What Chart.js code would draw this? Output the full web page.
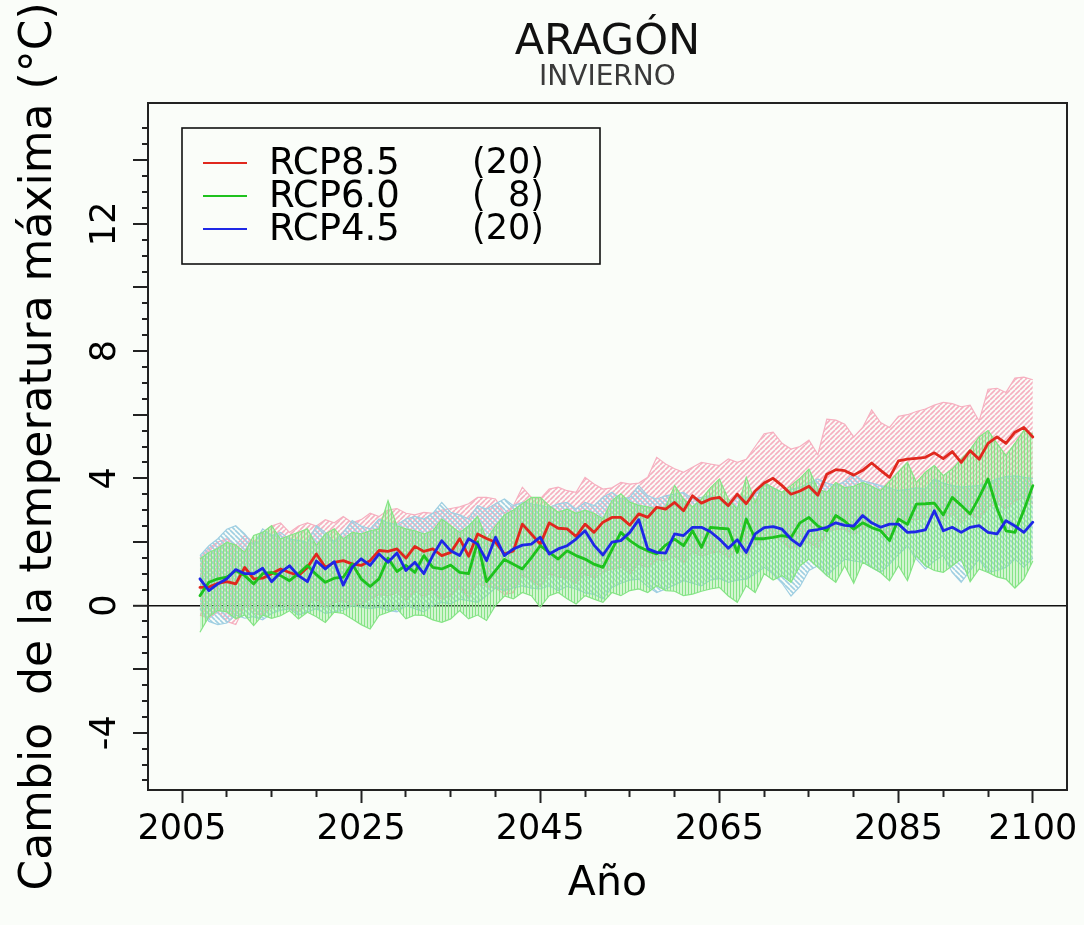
<!DOCTYPE html>
<html>
<head>
<meta charset="utf-8">
<script src="https://cdn.jsdelivr.net/npm/chart.js@4.4.1/dist/chart.umd.min.js"></script>
<style>
  html, body { margin: 0; padding: 0; background: #fafdf9; }
  canvas { display: block; }
</style>
</head>
<body>
<canvas id="c" width="1084" height="925"></canvas>
<script>
// ---------------- DATA ----------------
const years = [2007,2008,2009,2010,2011,2012,2013,2014,2015,2016,
  2017,2018,2019,2020,2021,2022,2023,2024,2025,2026,
  2027,2028,2029,2030,2031,2032,2033,2034,2035,2036,
  2037,2038,2039,2040,2041,2042,2043,2044,2045,2046,
  2047,2048,2049,2050,2051,2052,2053,2054,2055,2056,
  2057,2058,2059,2060,2061,2062,2063,2064,2065,2066,
  2067,2068,2069,2070,2071,2072,2073,2074,2075,2076,
  2077,2078,2079,2080,2081,2082,2083,2084,2085,2086,
  2087,2088,2089,2090,2091,2092,2093,2094,2095,2096,
  2097,2098,2099,2100];

const rcp85Mean = [0.57,0.58,0.70,0.75,0.68,1.20,0.84,0.86,1.00,1.15,
  1.04,0.94,1.20,1.62,1.20,1.36,1.41,1.31,1.26,1.41,
  1.73,1.70,1.78,1.49,1.86,1.70,1.78,1.57,1.67,2.10,
  1.55,2.25,2.11,1.99,1.62,1.72,2.56,2.25,1.93,2.60,
  2.43,2.41,2.17,2.56,2.30,2.62,2.77,2.77,2.53,2.88,
  2.77,3.09,3.03,3.24,2.98,3.45,3.22,3.35,3.40,3.14,
  3.50,3.20,3.60,3.85,4.00,3.77,3.50,3.60,3.75,3.47,
  4.13,4.27,4.24,4.10,4.25,4.48,4.25,4.03,4.55,4.60,
  4.63,4.66,4.80,4.62,4.84,4.50,4.87,4.60,5.10,5.30,
  5.10,5.45,5.60,5.30];
const rcp85Upper = [1.5,1.8,2.0,2.1,1.9,2.2,2.0,2.3,2.5,2.6,
  2.3,2.5,2.6,2.5,2.7,2.6,2.8,2.6,2.7,2.9,
  2.8,3.0,3.05,2.9,2.85,2.93,2.9,3.0,3.05,3.1,
  3.2,3.4,3.4,3.35,2.9,3.14,3.72,3.4,3.35,3.66,
  3.72,3.61,3.56,4.03,3.82,3.66,3.7,3.87,3.82,3.85,
  4.03,4.66,4.45,4.3,4.19,4.35,4.5,4.45,4.4,4.61,
  4.5,4.6,5.0,5.4,5.45,5.1,4.92,5.0,5.2,4.75,
  5.86,5.83,5.7,5.3,5.6,6.15,5.75,5.6,5.95,6.0,
  6.1,6.18,6.3,6.39,6.35,6.25,6.3,5.8,6.8,6.83,
  6.7,7.15,7.18,7.1];
const rcp85Lower = [-0.3,-0.4,-0.2,-0.5,-0.6,0.0,-0.25,-0.3,-0.05,0.1,
  -0.1,-0.2,0.05,0.2,-0.05,0.1,0.15,0.0,0.05,0.2,
  0.35,0.3,0.4,0.15,0.45,0.3,0.4,0.2,0.3,0.6,
  0.25,0.7,0.6,0.55,0.35,0.4,0.95,0.8,0.6,1.0,
  0.9,0.85,0.7,1.0,0.85,1.05,1.15,1.2,1.0,1.3,
  1.2,1.45,1.4,1.55,1.35,1.7,1.55,1.65,1.7,1.5,
  1.8,1.55,1.9,2.1,2.2,2.0,1.8,1.9,2.0,1.8,
  2.3,2.4,2.4,2.25,2.4,2.6,2.4,2.2,2.65,2.7,
  2.7,2.75,2.85,2.7,2.9,2.6,2.9,2.7,3.1,3.2,
  3.05,3.3,3.4,3.2];

const rcp60Mean = [0.31,0.73,0.84,0.89,1.10,0.94,0.68,1.00,1.04,0.94,
  0.78,1.00,1.26,0.97,0.73,0.86,0.89,1.31,0.84,0.60,
  0.84,1.49,1.07,1.26,1.04,1.57,1.20,1.15,1.27,1.04,
  1.00,2.00,0.75,1.10,1.45,1.30,1.15,1.50,1.88,1.67,
  1.46,1.72,1.57,1.46,1.30,1.20,1.75,2.30,2.04,1.85,
  1.72,1.62,1.90,2.09,1.88,2.35,1.83,2.46,2.43,2.41,
  1.67,2.72,2.10,2.10,2.14,2.20,2.14,2.60,2.77,2.50,
  2.35,2.83,2.65,2.40,2.60,2.45,2.35,2.04,2.72,2.55,
  3.19,3.20,3.22,2.85,3.40,3.15,2.88,3.40,3.98,3.05,
  2.35,2.30,3.00,3.77];
const rcp60Upper = [1.46,1.67,1.8,1.99,1.9,1.67,2.2,2.3,2.51,2.09,
  2.2,2.3,2.41,1.88,2.25,2.41,2.09,2.3,2.25,2.35,
  2.41,3.3,2.51,2.41,2.35,2.25,2.35,2.72,2.51,2.3,
  2.5,2.8,2.09,2.5,2.85,3.0,3.2,3.4,3.4,3.14,
  2.93,3.03,2.9,3.0,2.9,2.72,3.3,3.51,3.25,3.15,
  3.1,3.03,3.1,3.77,3.35,3.1,3.35,3.7,3.98,3.35,
  3.03,4.03,3.24,3.87,3.7,3.56,3.77,4.0,4.29,3.66,
  3.56,3.87,3.7,3.75,3.87,3.75,3.61,3.9,4.2,4.5,
  3.87,4.19,4.4,4.08,4.29,4.6,4.9,5.3,5.5,5.1,
  4.71,5.1,5.5,5.39];
const rcp60Lower = [-0.84,-0.35,-0.15,-0.2,-0.42,-0.3,-0.63,-0.3,-0.4,-0.32,
  -0.16,-0.42,-0.21,-0.35,-0.53,-0.21,-0.25,-0.42,-0.6,-0.74,
  -0.31,-0.21,-0.1,-0.42,-0.3,-0.31,-0.45,-0.53,-0.42,-0.16,
  -0.42,-0.3,-0.47,0.0,0.3,0.21,0.41,0.31,-0.05,0.31,
  0.41,0.21,0.05,0.31,0.2,0.1,0.41,0.31,0.47,0.52,
  0.41,0.62,0.47,0.45,0.31,0.36,0.45,0.52,0.57,0.3,
  0.1,0.62,0.41,1.0,0.8,0.94,0.73,1.25,1.46,1.2,
  0.94,0.73,1.25,0.7,1.36,1.2,1.04,0.78,1.25,0.78,
  1.57,1.25,1.1,1.04,1.25,1.46,0.75,1.15,1.04,0.9,
  0.83,0.55,0.83,1.4];

const rcp45Mean = [0.84,0.47,0.68,0.84,1.13,1.00,1.00,1.17,0.75,1.04,
  1.25,0.94,0.75,1.40,1.15,1.38,0.64,1.20,1.47,1.26,
  1.62,1.36,1.65,1.10,1.36,1.00,1.57,2.04,1.72,1.57,
  2.10,1.93,1.41,2.15,1.57,1.78,1.90,1.93,2.15,1.62,
  1.78,1.88,2.09,2.35,1.90,1.59,1.99,2.04,2.30,2.70,
  1.78,1.67,1.65,2.25,2.20,2.46,2.46,2.32,2.09,1.80,
  2.07,1.67,2.25,2.45,2.48,2.40,2.09,1.88,2.35,2.39,
  2.46,2.60,2.52,2.50,2.83,2.60,2.46,2.56,2.56,2.30,
  2.32,2.38,2.98,2.35,2.46,2.30,2.46,2.51,2.30,2.25,
  2.67,2.50,2.30,2.62];
const rcp45Upper = [1.57,1.88,2.1,2.4,2.51,2.25,1.9,2.41,2.2,2.3,
  2.09,2.05,1.99,2.51,2.3,1.99,2.3,2.67,2.5,2.41,
  2.72,2.6,2.55,2.72,2.8,2.72,2.9,3.24,2.93,2.85,
  2.72,3.14,3.03,3.2,3.35,3.14,3.24,3.2,3.14,3.09,
  3.2,3.24,3.03,3.24,3.14,3.4,3.56,3.35,3.4,3.77,
  3.45,3.35,3.45,3.5,3.56,3.35,3.4,3.45,3.3,3.24,
  3.45,3.4,3.5,3.82,3.7,3.56,3.65,3.72,3.85,3.98,
  3.85,3.77,3.9,4.13,3.92,3.85,3.77,3.7,3.61,3.65,
  3.7,3.66,3.98,3.85,3.77,3.72,3.75,3.77,3.85,3.98,
  4.05,4.08,4.03,4.0];
const rcp45Lower = [-0.1,-0.5,-0.6,-0.55,-0.3,-0.4,-0.35,-0.45,-0.25,-0.15,
  -0.1,-0.3,-0.2,-0.1,-0.25,-0.2,-0.15,0.0,-0.05,-0.1,
  -0.05,-0.15,-0.2,0.0,-0.1,-0.2,0.0,0.1,0.05,0.2,
  0.15,0.1,0.31,0.55,0.47,0.55,0.62,0.55,0.52,0.62,
  0.47,0.6,0.52,0.4,0.35,0.21,0.57,0.7,0.8,0.83,
  0.6,0.41,0.52,0.65,0.78,0.7,0.62,0.8,0.85,0.73,
  0.8,0.83,1.0,1.2,1.0,0.7,0.3,0.6,1.1,1.25,
  0.94,1.2,1.46,1.4,1.36,1.2,1.04,1.3,1.6,1.88,
  1.46,1.15,1.4,1.57,1.04,0.73,1.1,1.46,1.04,1.1,
  1.2,1.46,1.2,1.5];

const seriesNames = ['RCP8.5', 'RCP6.0', 'RCP4.5'];
const modelCounts = [20, 8, 20];

const xTickLabels = [2005, 2025, 2045, 2065, 2085, 2100];
const xAllTicks = [2005,2010,2015,2020,2025,2030,2035,2040,2045,2050,2055,2060,
  2065,2070,2075,2080,2085,2090,2095,2100];
const yTickLabels = [-4, 0, 4, 8, 12];
const yMajorTicks = [-4,-2,0,2,4,6,8,10,12,14];
const yAllTicks = [-5.5,-5,-4.5,-4,-3.5,-3,-2.5,-2,-1.5,-1,-0.5,0,0.5,1,1.5,2,2.5,3,3.5,4,
  4.5,5,5.5,6,6.5,7,7.5,8,8.5,9,9.5,10,10.5,11,11.5,12,12.5,13,13.5,14,14.5,15];

// ---------------- STYLE ----------------
const FONT = "'DejaVu Sans', 'Liberation Sans', sans-serif";
const BG = '#fafdf9';
const lineColors = ['#e0281e', '#1ec21e', '#1e28e6'];
const bandColors = { red: '#f6b0c0', green: '#86e486', blue: '#9fcfe2' };

const canvas = document.getElementById('c');
const mainCtx = canvas.getContext('2d');

function makePattern(color, dir, size, lw) {
  const c = document.createElement('canvas');
  c.width = size; c.height = size;
  const g = c.getContext('2d');
  g.strokeStyle = color; g.lineWidth = lw;
  g.beginPath();
  if (dir === '/') {
    for (let k = -1; k <= 1; k++) { g.moveTo(k * size, size); g.lineTo(k * size + size, 0); }
  } else if (dir === '\\') {
    for (let k = -1; k <= 1; k++) { g.moveTo(k * size, 0); g.lineTo(k * size + size, size); }
  } else {
    g.moveTo(size / 2, 0); g.lineTo(size / 2, size);
  }
  g.stroke();
  return mainCtx.createPattern(c, 'repeat');
}

const patRed = makePattern(bandColors.red, '/', 5, 1.6);
const patBlue = makePattern(bandColors.blue, '\\', 5, 1.6);
const patGreen = makePattern(bandColors.green, '|', 3, 1.7);

function band(data, color, fillPat, order) {
  return {
    data: data, borderColor: color, borderWidth: 1.2, pointRadius: 0, tension: 0,
    fill: fillPat ? { target: '-1', above: fillPat, below: fillPat } : false,
    order: order
  };
}
function meanLine(data, color, order) {
  return {
    data: data, borderColor: color, borderWidth: 2.8, pointRadius: 0, tension: 0,
    borderJoinStyle: 'round', borderCapStyle: 'round', fill: false, order: order
  };
}

const bgPlugin = {
  id: 'bg',
  beforeDraw(chart) {
    const c = chart.ctx;
    c.save(); c.fillStyle = BG; c.fillRect(0, 0, chart.width, chart.height); c.restore();
  }
};

const framePlugin = {
  id: 'frame',
  afterDraw(chart) {
    const a = chart.chartArea, c = chart.ctx;
    c.save();
    c.strokeStyle = '#222'; c.lineWidth = 2;
    c.strokeRect(Math.round(a.left), Math.round(a.top), Math.round(a.right - a.left), Math.round(a.bottom - a.top));
    c.restore();
  }
};

const legendPlugin = {
  id: 'boxLegend',
  afterDraw(chart) {
    const c = chart.ctx, a = chart.chartArea;
    const bx = a.left + 34, by = a.top + 25, bw = 418, bh = 136;
    c.save();
    c.fillStyle = BG; c.fillRect(bx, by, bw, bh);
    c.strokeStyle = '#111'; c.lineWidth = 1.6;
    c.strokeRect(bx, by, bw, bh);
    c.fillStyle = '#000'; c.textBaseline = 'middle';
    for (let i = 0; i < seriesNames.length; i++) {
      const y = by + 35 + i * 33;
      c.strokeStyle = lineColors[i]; c.lineWidth = 2;
      c.beginPath(); c.moveTo(bx + 21, y); c.lineTo(bx + 65, y); c.stroke();
      c.font = '37px ' + FONT;
      c.textAlign = 'left';
      c.fillText(seriesNames[i], bx + 87, y + 1);
      c.font = '35px ' + FONT;
      c.fillText('(', bx + 290, y + 1);
      c.textAlign = 'right';
      c.fillText(String(modelCounts[i]) + ')', bx + 362, y + 1);
    }
    c.restore();
  }
};

new Chart(canvas, {
  type: 'line',
  data: {
    labels: years,
    datasets: [
      band(rcp85Lower, bandColors.red, null, 9),
      band(rcp85Upper, bandColors.red, patRed, 8),
      band(rcp45Lower, bandColors.blue, null, 7),
      band(rcp45Upper, bandColors.blue, patBlue, 6),
      band(rcp60Lower, bandColors.green, null, 5),
      band(rcp60Upper, bandColors.green, patGreen, 4),
      meanLine(rcp85Mean, lineColors[0], 3),
      meanLine(rcp60Mean, lineColors[1], 2),
      meanLine(rcp45Mean, lineColors[2], 1)
    ]
  },
  options: {
    responsive: false,
    animation: false,
    devicePixelRatio: 1,
    events: [],
    layout: { padding: { left: 0, right: 16, top: 0, bottom: 0 } },
    plugins: {
      legend: { display: false },
      tooltip: { enabled: false },
      title: {
        display: true, text: 'ARAGÓN', fullSize: false, color: '#111',
        font: { family: FONT, size: 43, weight: 'normal', lineHeight: 1 },
        padding: { top: 21, bottom: 0 }
      },
      subtitle: {
        display: true, text: 'INVIERNO', fullSize: false, color: '#3a3a3a',
        font: { family: FONT, size: 28, weight: 'normal', lineHeight: 1 },
        padding: { top: 0, bottom: 11 }
      }
    },
    scales: {
      x: {
        type: 'linear', min: 2001.2, max: 2103.8,
        afterBuildTicks: s => { s.ticks = xAllTicks.map(v => ({ value: v })); },
        afterFit: s => { s.height = 135; },
        ticks: {
          autoSkip: false, maxRotation: 0, minRotation: 0, padding: 6, color: '#000',
          font: { family: FONT, size: 35 },
          callback: v => xTickLabels.includes(v) ? String(v) : ''
        },
        grid: {
          drawOnChartArea: false, drawTicks: true, tickLength: 13, tickWidth: 2, tickColor: '#222',
          tickBorderDash: c => (c.tick && xTickLabels.includes(c.tick.value)) ? [] : [6, 100]
        },
        border: { display: true, color: '#222', width: 2 },
        title: {
          display: true, text: 'Año', color: '#000',
          font: { family: FONT, size: 41 }, padding: { top: 0, bottom: 16 }
        }
      },
      y: {
        min: -5.8, max: 15.8, z: 1,
        afterBuildTicks: s => { s.ticks = yAllTicks.map(v => ({ value: v })); },
        afterFit: s => { s.width = 148; },
        ticks: {
          autoSkip: false, minRotation: 90, maxRotation: 90, crossAlign: 'center', padding: 5,
          color: '#000', font: { family: FONT, size: 35 },
          callback: v => yTickLabels.includes(v) ? String(v) : ''
        },
        grid: {
          drawOnChartArea: true, drawTicks: true, tickLength: 15, tickWidth: 2, tickColor: '#222',
          color: c => (c.tick && c.tick.value === 0) ? '#111' : 'rgba(0,0,0,0)',
          lineWidth: c => (c.tick && c.tick.value === 0) ? 1.6 : 0,
          tickBorderDash: c => (c.tick && yMajorTicks.includes(c.tick.value)) ? [] : [0, 9, 6, 100]
        },
        border: { display: true, color: '#222', width: 2 },
        title: {
          display: true, text: 'Cambio  de la temperatura máxima (°C)', color: '#000',
          font: { family: FONT, size: 44 }, padding: { top: 13, bottom: 0 }
        }
      }
    }
  },
  plugins: [bgPlugin, framePlugin, legendPlugin]
});
</script>
</body>
</html>
